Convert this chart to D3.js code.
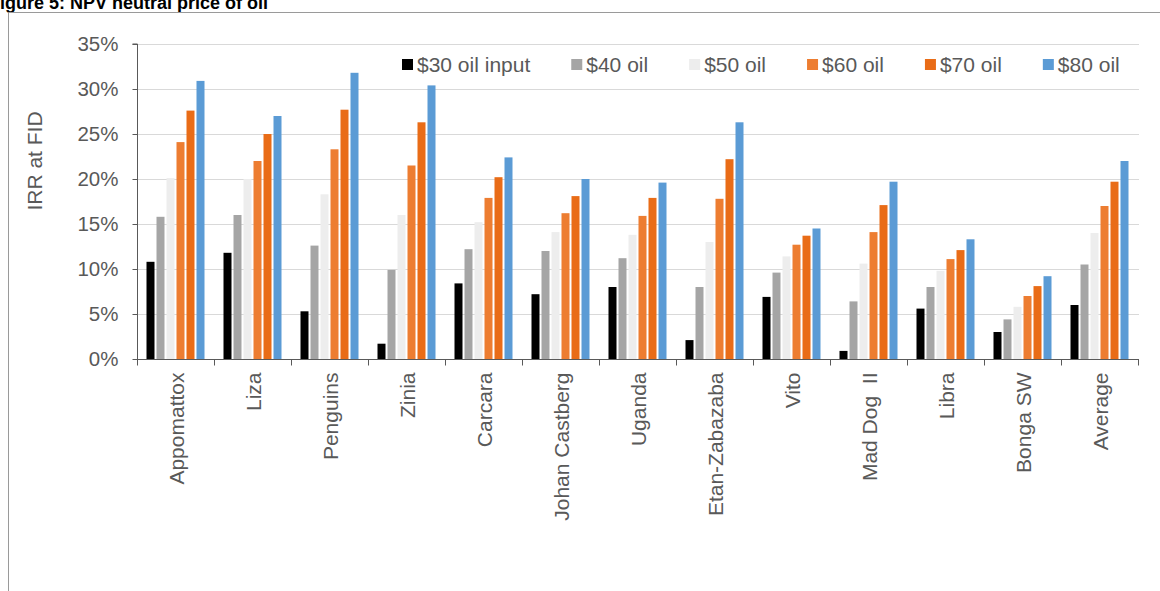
<!DOCTYPE html>
<meta charset="utf-8">
<style>
body { margin: 0; background: #fff; }
text { font-family: Arial, "Liberation Sans", sans-serif; }
</style>
<body>
<script src="https://d3js.org/d3.v7.min.js"></script>
<script>
var width = 1160,
    height = 591;

// data (IRR at FID, %)
var projects = ["Appomattox", "Liza", "Penguins", "Zinia", "Carcara", "Johan Castberg",
                "Uganda", "Etan-Zabazaba", "Vito", "Mad Dog  II", "Libra", "Bonga SW", "Average"];
var seriesNames = ["$30 oil input", "$40 oil", "$50 oil", "$60 oil", "$70 oil", "$80 oil"];
var oil30 = [10.8, 11.8, 5.3, 1.7, 8.4, 7.2, 8.0, 2.1, 6.9, 0.9, 5.6, 3.0, 6.0];
var oil40 = [15.8, 16.0, 12.6, 9.9, 12.2, 12.0, 11.2, 8.0, 9.6, 6.4, 8.0, 4.4, 10.5];
var oil50 = [20.1, 20.0, 18.3, 16.0, 15.2, 14.1, 13.8, 13.0, 11.4, 10.6, 9.8, 5.8, 14.0];
var oil60 = [24.1, 22.0, 23.3, 21.5, 17.9, 16.2, 15.9, 17.8, 12.7, 14.1, 11.1, 7.0, 17.0];
var oil70 = [27.6, 25.0, 27.7, 26.3, 20.2, 18.1, 17.9, 22.2, 13.7, 17.1, 12.1, 8.1, 19.7];
var oil80 = [30.9, 27.0, 31.8, 30.4, 22.4, 20.0, 19.6, 26.3, 14.5, 19.7, 13.3, 9.2, 22.0];
var yTicks = [0, 5, 10, 15, 20, 25, 30, 35];

var seriesValues = [oil30, oil40, oil50, oil60, oil70, oil80];
var colors = ["#000000", "#a5a5a5", "#ededed", "#ed7d31", "#e96c17", "#5b9bd5"];

var svg = d3.select("body").append("svg")
    .attr("width", width)
    .attr("height", height);

// title, cut off at the top like the source
svg.append("text")
    .attr("x", -11)
    .attr("y", 9)
    .style("font-weight", "bold")
    .style("font-size", "18px")
    .attr("fill", "#000")
    .text("Figure 5: NPV neutral price of oil");

// frame
svg.append("path")
    .attr("d", "M8.5," + height + "V12.5H" + width)
    .attr("fill", "none")
    .attr("stroke", "#9a9a9a")
    .attr("stroke-width", 1);

var x0 = d3.scaleBand()
    .domain(projects)
    .range([137, 1138])
    .padding(0);

var x1 = d3.scaleBand()
    .domain(d3.range(seriesNames.length))
    .range([9.5, x0.bandwidth() - 9.5])
    .paddingInner(0.2)
    .paddingOuter(0);

var y = d3.scaleLinear()
    .domain([0, 35])
    .range([359, 44]);

// gridlines
svg.append("g")
  .selectAll("line")
  .data(yTicks.slice(1))
  .join("line")
    .attr("x1", 137)
    .attr("x2", 1139)
    .attr("y1", function(d) { return Math.round(y(d)) + 0.5; })
    .attr("y2", function(d) { return Math.round(y(d)) + 0.5; })
    .attr("stroke", "#d9d9d9")
    .attr("stroke-width", 1);

// bars
var groups = svg.append("g")
  .selectAll("g")
  .data(seriesValues)
  .join("g")
    .attr("fill", function(d, i) { return colors[i]; });

groups.each(function(vals, si) {
  d3.select(this).selectAll("rect")
    .data(vals)
    .join("rect")
      .attr("x", function(d, i) { return x0(projects[i]) + x1(si); })
      .attr("width", x1.bandwidth())
      .attr("y", function(d) { return y(d); })
      .attr("height", function(d) { return y(0) - y(d); });
});

// y axis
var yAxis = svg.append("g")
    .attr("transform", "translate(137.5,0)")
    .call(d3.axisLeft(y).tickValues(yTicks).tickSize(5).tickPadding(14)
      .tickFormat(function(d) { return d + "%"; }));
yAxis.select(".domain").attr("stroke", "#595959").attr("d", "M-5," + y(35) + "H0V" + y(0));
yAxis.selectAll(".tick line").attr("stroke", "#595959");
yAxis.selectAll(".tick text")
    .attr("fill", "#595959")
    .style("font-family", "Arial, 'Liberation Sans', sans-serif")
    .style("font-size", "20.5px");

// x axis
var xAxis = svg.append("g")
    .attr("transform", "translate(0," + (y(0) + 0.5) + ")");
xAxis.append("line")
    .attr("x1", 137)
    .attr("x2", 1139)
    .attr("stroke", "#595959");
xAxis.selectAll(".sep")
  .data(projects.concat(["end"]))
  .join("line")
    .attr("class", "sep")
    .attr("x1", function(d, i) { return Math.round(137 + i * x0.step()) + 0.5; })
    .attr("x2", function(d, i) { return Math.round(137 + i * x0.step()) + 0.5; })
    .attr("y1", 0)
    .attr("y2", 6)
    .attr("stroke", "#595959");
xAxis.selectAll(".lab")
  .data(projects)
  .join("text")
    .attr("class", "lab")
    .attr("transform", function(d) {
      return "translate(" + (x0(d) + x0.bandwidth() / 2 + 1) + ",13) rotate(-90)";
    })
    .attr("text-anchor", "end")
    .attr("dy", "0.35em")
    .attr("fill", "#595959")
    .style("font-size", "21px")
    .style("white-space", "pre")
    .text(function(d) { return d; });

// y axis title
svg.append("text")
    .attr("transform", "translate(35,161) rotate(-90)")
    .attr("text-anchor", "middle")
    .attr("dy", "0.35em")
    .attr("fill", "#595959")
    .style("font-size", "21px")
    .text("IRR at FID");

// legend
var legend = svg.append("g");
var lx = 402;
seriesNames.forEach(function(name, i) {
  legend.append("rect")
      .attr("x", lx)
      .attr("y", 59)
      .attr("width", 11)
      .attr("height", 11)
      .attr("fill", colors[i]);
  var t = legend.append("text")
      .attr("x", lx + 15)
      .attr("y", 72)
      .attr("fill", "#595959")
      .style("font-size", "21px")
      .text(name);
  lx += 15 + t.node().getComputedTextLength() + 41;
});
</script>
</body>
</html>
